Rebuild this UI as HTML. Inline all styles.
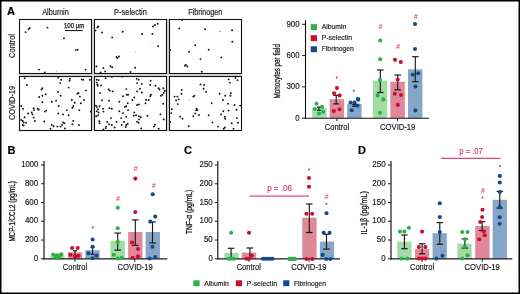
<!DOCTYPE html><html><head><meta charset="utf-8"><style>html,body{margin:0;padding:0;background:#fff;width:520px;height:294px;overflow:hidden}svg{display:block;filter:blur(0.3px)}text{font-family:"Liberation Sans",sans-serif}.t{stroke:currentColor}</style></head><body>
<svg width="520" height="294" viewBox="0 0 520 294">
<rect x="0" y="0" width="520" height="294" fill="#fff"/>
<rect x="0.75" y="0.75" width="518.5" height="292.5" fill="none" stroke="#000" stroke-width="1.5"/>
<text x="7" y="14.8" font-size="11" text-anchor="start" fill="#000" stroke="#000" stroke-width="0.18" font-weight="bold" >A</text>
<text x="7.6" y="153.6" font-size="11" text-anchor="start" fill="#000" stroke="#000" stroke-width="0.18" font-weight="bold" >B</text>
<text x="184" y="153.8" font-size="11" text-anchor="start" fill="#000" stroke="#000" stroke-width="0.18" font-weight="bold" >C</text>
<text x="358" y="153.8" font-size="11" text-anchor="start" fill="#000" stroke="#000" stroke-width="0.18" font-weight="bold" >D</text>
<rect x="19" y="19" width="223" height="112" fill="#d9d9d9"/>
<rect x="19.5" y="19.5" width="72" height="54" fill="#fff" stroke="#111" stroke-width="1.1"/>
<rect x="94.5" y="19.5" width="72" height="54" fill="#fff" stroke="#111" stroke-width="1.1"/>
<rect x="169.5" y="19.5" width="72" height="54" fill="#fff" stroke="#111" stroke-width="1.1"/>
<rect x="19.5" y="76.5" width="72" height="54" fill="#fff" stroke="#111" stroke-width="1.1"/>
<rect x="94.5" y="76.5" width="72" height="54" fill="#fff" stroke="#111" stroke-width="1.1"/>
<rect x="169.5" y="76.5" width="72" height="54" fill="#fff" stroke="#111" stroke-width="1.1"/>
<text x="42.2" y="15" font-size="8.2" text-anchor="start" fill="#222" stroke="#222" stroke-width="0.18" font-weight="normal" textLength="26.6" lengthAdjust="spacingAndGlyphs" >Albumin</text>
<text x="114.1" y="15" font-size="8.2" text-anchor="start" fill="#222" stroke="#222" stroke-width="0.18" font-weight="normal" textLength="32.7" lengthAdjust="spacingAndGlyphs" >P-selectin</text>
<text x="188.2" y="15" font-size="8.2" text-anchor="start" fill="#222" stroke="#222" stroke-width="0.18" font-weight="normal" textLength="34.1" lengthAdjust="spacingAndGlyphs" >Fibrinogen</text>
<text transform="translate(14.5,58.0) rotate(-90)" x="0" y="0" font-size="8.4" fill="#1a1a1a" stroke="#1a1a1a" stroke-width="0.18" font-weight="normal" textLength="24.0" lengthAdjust="spacingAndGlyphs">Control</text>
<text transform="translate(14.5,120.0) rotate(-90)" x="0" y="0" font-size="8.4" fill="#1a1a1a" stroke="#1a1a1a" stroke-width="0.18" font-weight="normal" textLength="34.2" lengthAdjust="spacingAndGlyphs">COVID-19</text>
<text x="64" y="27.8" font-size="6.3" text-anchor="start" fill="#1a1a1a" stroke="#1a1a1a" stroke-width="0.25" font-weight="normal" textLength="20.3" lengthAdjust="spacingAndGlyphs" >100 µm</text>
<line x1="65" y1="30.6" x2="82.7" y2="30.6" stroke="#111" stroke-width="1"/>
<circle cx="25.6" cy="32.1" r="0.95" fill="#111"/>
<circle cx="28.7" cy="29.3" r="0.95" fill="#111"/>
<circle cx="29.7" cy="28" r="0.95" fill="#111"/>
<circle cx="47.5" cy="27.6" r="0.95" fill="#111"/>
<circle cx="64" cy="38.3" r="0.95" fill="#111"/>
<circle cx="75.7" cy="50.1" r="0.95" fill="#111"/>
<circle cx="77.6" cy="49.7" r="0.95" fill="#111"/>
<circle cx="39" cy="69.6" r="0.95" fill="#111"/>
<circle cx="44.7" cy="72.4" r="0.95" fill="#111"/>
<circle cx="85.5" cy="69.6" r="0.95" fill="#111"/>
<circle cx="97.4" cy="27.4" r="0.95" fill="#111"/>
<circle cx="98.3" cy="26.5" r="0.95" fill="#111"/>
<circle cx="95.5" cy="30.6" r="0.95" fill="#111"/>
<circle cx="102" cy="32.5" r="0.95" fill="#111"/>
<circle cx="112.2" cy="37.4" r="0.95" fill="#111"/>
<circle cx="122.7" cy="31.7" r="0.95" fill="#111"/>
<circle cx="142.1" cy="34" r="0.95" fill="#111"/>
<circle cx="152.4" cy="34" r="0.95" fill="#111"/>
<circle cx="153" cy="26.5" r="0.95" fill="#111"/>
<circle cx="154.9" cy="25" r="0.95" fill="#111"/>
<circle cx="157.7" cy="23.7" r="0.95" fill="#111"/>
<circle cx="158.2" cy="46.2" r="0.95" fill="#111"/>
<circle cx="116.5" cy="57" r="0.95" fill="#111"/>
<circle cx="117.4" cy="58" r="0.95" fill="#111"/>
<circle cx="118.9" cy="56.5" r="0.95" fill="#111"/>
<circle cx="96.4" cy="66.4" r="0.95" fill="#111"/>
<circle cx="103.4" cy="68" r="0.95" fill="#111"/>
<circle cx="105.2" cy="71.4" r="0.95" fill="#111"/>
<circle cx="110.5" cy="66.2" r="0.95" fill="#111"/>
<circle cx="112.2" cy="67.3" r="0.95" fill="#111"/>
<circle cx="135.2" cy="67.7" r="0.95" fill="#111"/>
<circle cx="100.6" cy="72.4" r="0.95" fill="#111"/>
<circle cx="130.5" cy="72" r="0.95" fill="#111"/>
<circle cx="182.1" cy="19.9" r="0.95" fill="#111"/>
<circle cx="179.3" cy="28.4" r="0.95" fill="#111"/>
<circle cx="205.1" cy="29.3" r="0.95" fill="#111"/>
<circle cx="232.1" cy="30.2" r="0.95" fill="#111"/>
<circle cx="232.3" cy="41.8" r="0.95" fill="#111"/>
<circle cx="195.2" cy="45.2" r="0.95" fill="#111"/>
<circle cx="169.9" cy="49.9" r="0.95" fill="#111"/>
<circle cx="189" cy="51.8" r="0.95" fill="#111"/>
<circle cx="208.7" cy="49.7" r="0.95" fill="#111"/>
<circle cx="200.5" cy="59.1" r="0.95" fill="#111"/>
<circle cx="221.4" cy="57.4" r="0.95" fill="#111"/>
<circle cx="184.9" cy="65.8" r="0.95" fill="#111"/>
<circle cx="185.9" cy="64.9" r="0.95" fill="#111"/>
<circle cx="187.4" cy="66.4" r="0.95" fill="#111"/>
<circle cx="201.8" cy="71.8" r="0.95" fill="#111"/>
<circle cx="24.6" cy="78.2" r="0.95" fill="#111"/>
<circle cx="58.3" cy="77.5" r="0.95" fill="#111"/>
<circle cx="61.1" cy="79.7" r="0.95" fill="#111"/>
<circle cx="69.9" cy="78.8" r="0.95" fill="#111"/>
<circle cx="69.6" cy="80.7" r="0.95" fill="#111"/>
<circle cx="81.7" cy="79.4" r="0.95" fill="#111"/>
<circle cx="83.2" cy="79.7" r="0.95" fill="#111"/>
<circle cx="89.8" cy="79.7" r="0.95" fill="#111"/>
<circle cx="26.9" cy="85" r="0.95" fill="#111"/>
<circle cx="60.2" cy="83.1" r="0.95" fill="#111"/>
<circle cx="68.6" cy="87.6" r="0.95" fill="#111"/>
<circle cx="42.4" cy="88.2" r="0.95" fill="#111"/>
<circle cx="41.5" cy="89.5" r="0.95" fill="#111"/>
<circle cx="85.9" cy="90.6" r="0.95" fill="#111"/>
<circle cx="78.5" cy="92.9" r="0.95" fill="#111"/>
<circle cx="77.4" cy="93.8" r="0.95" fill="#111"/>
<circle cx="58" cy="91.9" r="0.95" fill="#111"/>
<circle cx="45.6" cy="94.2" r="0.95" fill="#111"/>
<circle cx="42.4" cy="95.7" r="0.95" fill="#111"/>
<circle cx="39.2" cy="97" r="0.95" fill="#111"/>
<circle cx="60.6" cy="95.7" r="0.95" fill="#111"/>
<circle cx="79.9" cy="96.6" r="0.95" fill="#111"/>
<circle cx="71.8" cy="100" r="0.95" fill="#111"/>
<circle cx="84" cy="100" r="0.95" fill="#111"/>
<circle cx="42.4" cy="102.2" r="0.95" fill="#111"/>
<circle cx="51.8" cy="101.8" r="0.95" fill="#111"/>
<circle cx="56.1" cy="100.7" r="0.95" fill="#111"/>
<circle cx="74.8" cy="102.8" r="0.95" fill="#111"/>
<circle cx="80.8" cy="103.2" r="0.95" fill="#111"/>
<circle cx="21.2" cy="106" r="0.95" fill="#111"/>
<circle cx="58.7" cy="106" r="0.95" fill="#111"/>
<circle cx="73.3" cy="106" r="0.95" fill="#111"/>
<circle cx="72.4" cy="107.8" r="0.95" fill="#111"/>
<circle cx="23.1" cy="108.8" r="0.95" fill="#111"/>
<circle cx="33.6" cy="108.2" r="0.95" fill="#111"/>
<circle cx="34" cy="110.1" r="0.95" fill="#111"/>
<circle cx="37.7" cy="108.8" r="0.95" fill="#111"/>
<circle cx="38.7" cy="109.7" r="0.95" fill="#111"/>
<circle cx="46.2" cy="110.6" r="0.95" fill="#111"/>
<circle cx="44.8" cy="111.6" r="0.95" fill="#111"/>
<circle cx="66.8" cy="110.1" r="0.95" fill="#111"/>
<circle cx="79.3" cy="110.1" r="0.95" fill="#111"/>
<circle cx="90.7" cy="111.6" r="0.95" fill="#111"/>
<circle cx="28" cy="113.5" r="0.95" fill="#111"/>
<circle cx="31.7" cy="112.5" r="0.95" fill="#111"/>
<circle cx="32.5" cy="114.4" r="0.95" fill="#111"/>
<circle cx="58.3" cy="113.5" r="0.95" fill="#111"/>
<circle cx="63" cy="114.4" r="0.95" fill="#111"/>
<circle cx="68.6" cy="115.3" r="0.95" fill="#111"/>
<circle cx="24.6" cy="117.2" r="0.95" fill="#111"/>
<circle cx="33.6" cy="117.6" r="0.95" fill="#111"/>
<circle cx="21.2" cy="120" r="0.95" fill="#111"/>
<circle cx="22.7" cy="121" r="0.95" fill="#111"/>
<circle cx="23.7" cy="122.4" r="0.95" fill="#111"/>
<circle cx="34.9" cy="121" r="0.95" fill="#111"/>
<circle cx="44.3" cy="121.5" r="0.95" fill="#111"/>
<circle cx="26.1" cy="122.8" r="0.95" fill="#111"/>
<circle cx="63" cy="122.4" r="0.95" fill="#111"/>
<circle cx="64.3" cy="123.2" r="0.95" fill="#111"/>
<circle cx="73.3" cy="121" r="0.95" fill="#111"/>
<circle cx="72.4" cy="124.3" r="0.95" fill="#111"/>
<circle cx="22.7" cy="125" r="0.95" fill="#111"/>
<circle cx="23.7" cy="125.6" r="0.95" fill="#111"/>
<circle cx="78.9" cy="125" r="0.95" fill="#111"/>
<circle cx="51.8" cy="125" r="0.95" fill="#111"/>
<circle cx="53.6" cy="126.2" r="0.95" fill="#111"/>
<circle cx="57.4" cy="126.6" r="0.95" fill="#111"/>
<circle cx="60.6" cy="126.6" r="0.95" fill="#111"/>
<circle cx="62.1" cy="125" r="0.95" fill="#111"/>
<circle cx="64.9" cy="128.4" r="0.95" fill="#111"/>
<circle cx="50.5" cy="128.8" r="0.95" fill="#111"/>
<circle cx="96.8" cy="79.7" r="0.95" fill="#111"/>
<circle cx="98.7" cy="80.1" r="0.95" fill="#111"/>
<circle cx="96.8" cy="82.6" r="0.95" fill="#111"/>
<circle cx="97.4" cy="84.4" r="0.95" fill="#111"/>
<circle cx="97.7" cy="85.7" r="0.95" fill="#111"/>
<circle cx="101.1" cy="85.4" r="0.95" fill="#111"/>
<circle cx="105.6" cy="78.2" r="0.95" fill="#111"/>
<circle cx="111.8" cy="76.9" r="0.95" fill="#111"/>
<circle cx="122.1" cy="76.6" r="0.95" fill="#111"/>
<circle cx="136.7" cy="78.8" r="0.95" fill="#111"/>
<circle cx="138.6" cy="79.7" r="0.95" fill="#111"/>
<circle cx="137.1" cy="83.1" r="0.95" fill="#111"/>
<circle cx="141.8" cy="83.9" r="0.95" fill="#111"/>
<circle cx="150.6" cy="80.7" r="0.95" fill="#111"/>
<circle cx="150.2" cy="85" r="0.95" fill="#111"/>
<circle cx="155.4" cy="85.7" r="0.95" fill="#111"/>
<circle cx="158.6" cy="88.2" r="0.95" fill="#111"/>
<circle cx="159.5" cy="89.5" r="0.95" fill="#111"/>
<circle cx="163.3" cy="88.2" r="0.95" fill="#111"/>
<circle cx="164.8" cy="91" r="0.95" fill="#111"/>
<circle cx="163.7" cy="92.9" r="0.95" fill="#111"/>
<circle cx="162.4" cy="94.7" r="0.95" fill="#111"/>
<circle cx="108.6" cy="89.5" r="0.95" fill="#111"/>
<circle cx="109.9" cy="90.6" r="0.95" fill="#111"/>
<circle cx="112.7" cy="91.4" r="0.95" fill="#111"/>
<circle cx="100" cy="92.9" r="0.95" fill="#111"/>
<circle cx="126.2" cy="89.1" r="0.95" fill="#111"/>
<circle cx="139.9" cy="88.7" r="0.95" fill="#111"/>
<circle cx="137.1" cy="91.4" r="0.95" fill="#111"/>
<circle cx="141.8" cy="92.5" r="0.95" fill="#111"/>
<circle cx="126.8" cy="94.7" r="0.95" fill="#111"/>
<circle cx="128.1" cy="94.7" r="0.95" fill="#111"/>
<circle cx="123" cy="96.2" r="0.95" fill="#111"/>
<circle cx="151.1" cy="94.7" r="0.95" fill="#111"/>
<circle cx="150.2" cy="96.2" r="0.95" fill="#111"/>
<circle cx="161" cy="95.7" r="0.95" fill="#111"/>
<circle cx="134.3" cy="97.5" r="0.95" fill="#111"/>
<circle cx="132.4" cy="100" r="0.95" fill="#111"/>
<circle cx="148.7" cy="100" r="0.95" fill="#111"/>
<circle cx="146.1" cy="100" r="0.95" fill="#111"/>
<circle cx="101.9" cy="100.3" r="0.95" fill="#111"/>
<circle cx="109" cy="100.7" r="0.95" fill="#111"/>
<circle cx="119.3" cy="101.8" r="0.95" fill="#111"/>
<circle cx="127.7" cy="103.2" r="0.95" fill="#111"/>
<circle cx="145.5" cy="103.2" r="0.95" fill="#111"/>
<circle cx="163.3" cy="103.7" r="0.95" fill="#111"/>
<circle cx="137.1" cy="105" r="0.95" fill="#111"/>
<circle cx="139" cy="104.5" r="0.95" fill="#111"/>
<circle cx="95.9" cy="105.6" r="0.95" fill="#111"/>
<circle cx="96.8" cy="106.9" r="0.95" fill="#111"/>
<circle cx="99.6" cy="106.3" r="0.95" fill="#111"/>
<circle cx="126.2" cy="106.3" r="0.95" fill="#111"/>
<circle cx="124.9" cy="106.9" r="0.95" fill="#111"/>
<circle cx="109.4" cy="108.2" r="0.95" fill="#111"/>
<circle cx="111.8" cy="108.8" r="0.95" fill="#111"/>
<circle cx="98.1" cy="109.3" r="0.95" fill="#111"/>
<circle cx="96.8" cy="111.2" r="0.95" fill="#111"/>
<circle cx="103" cy="108.8" r="0.95" fill="#111"/>
<circle cx="128.1" cy="110.1" r="0.95" fill="#111"/>
<circle cx="103.4" cy="111.6" r="0.95" fill="#111"/>
<circle cx="119.3" cy="111.2" r="0.95" fill="#111"/>
<circle cx="98.7" cy="112.5" r="0.95" fill="#111"/>
<circle cx="134.3" cy="112.5" r="0.95" fill="#111"/>
<circle cx="123" cy="113.1" r="0.95" fill="#111"/>
<circle cx="98.1" cy="115.3" r="0.95" fill="#111"/>
<circle cx="96.2" cy="116.3" r="0.95" fill="#111"/>
<circle cx="133.7" cy="115.7" r="0.95" fill="#111"/>
<circle cx="136.1" cy="115.3" r="0.95" fill="#111"/>
<circle cx="139" cy="116.3" r="0.95" fill="#111"/>
<circle cx="140.8" cy="117.2" r="0.95" fill="#111"/>
<circle cx="147.4" cy="115.7" r="0.95" fill="#111"/>
<circle cx="160.5" cy="114.4" r="0.95" fill="#111"/>
<circle cx="126.2" cy="116.8" r="0.95" fill="#111"/>
<circle cx="121.2" cy="118.1" r="0.95" fill="#111"/>
<circle cx="110.9" cy="118.1" r="0.95" fill="#111"/>
<circle cx="139" cy="119.4" r="0.95" fill="#111"/>
<circle cx="163.7" cy="119.4" r="0.95" fill="#111"/>
<circle cx="99.2" cy="121.3" r="0.95" fill="#111"/>
<circle cx="99.6" cy="123.2" r="0.95" fill="#111"/>
<circle cx="107.1" cy="121.9" r="0.95" fill="#111"/>
<circle cx="116.5" cy="121.9" r="0.95" fill="#111"/>
<circle cx="124" cy="121.9" r="0.95" fill="#111"/>
<circle cx="137.1" cy="121.9" r="0.95" fill="#111"/>
<circle cx="138.6" cy="122.8" r="0.95" fill="#111"/>
<circle cx="127.7" cy="123.8" r="0.95" fill="#111"/>
<circle cx="126.2" cy="125" r="0.95" fill="#111"/>
<circle cx="109" cy="124.3" r="0.95" fill="#111"/>
<circle cx="111.8" cy="125" r="0.95" fill="#111"/>
<circle cx="121.7" cy="125" r="0.95" fill="#111"/>
<circle cx="154.9" cy="124.7" r="0.95" fill="#111"/>
<circle cx="153.9" cy="126.6" r="0.95" fill="#111"/>
<circle cx="106.2" cy="126.6" r="0.95" fill="#111"/>
<circle cx="105.6" cy="128.1" r="0.95" fill="#111"/>
<circle cx="114.6" cy="127.5" r="0.95" fill="#111"/>
<circle cx="125.8" cy="126.9" r="0.95" fill="#111"/>
<circle cx="141.2" cy="128.4" r="0.95" fill="#111"/>
<circle cx="158.6" cy="128.8" r="0.95" fill="#111"/>
<circle cx="103.4" cy="129.4" r="0.95" fill="#111"/>
<circle cx="228.6" cy="79.4" r="0.95" fill="#111"/>
<circle cx="229.9" cy="82.6" r="0.95" fill="#111"/>
<circle cx="235.5" cy="77.9" r="0.95" fill="#111"/>
<circle cx="237.4" cy="80.1" r="0.95" fill="#111"/>
<circle cx="200.5" cy="84.4" r="0.95" fill="#111"/>
<circle cx="204.2" cy="85" r="0.95" fill="#111"/>
<circle cx="203.6" cy="88.7" r="0.95" fill="#111"/>
<circle cx="206.1" cy="91.9" r="0.95" fill="#111"/>
<circle cx="181.7" cy="90" r="0.95" fill="#111"/>
<circle cx="181.5" cy="93.8" r="0.95" fill="#111"/>
<circle cx="174.6" cy="96.6" r="0.95" fill="#111"/>
<circle cx="177.4" cy="96.6" r="0.95" fill="#111"/>
<circle cx="176.1" cy="100.3" r="0.95" fill="#111"/>
<circle cx="178.7" cy="99.4" r="0.95" fill="#111"/>
<circle cx="177.8" cy="104.1" r="0.95" fill="#111"/>
<circle cx="194.3" cy="95.7" r="0.95" fill="#111"/>
<circle cx="193.3" cy="96.6" r="0.95" fill="#111"/>
<circle cx="219.6" cy="93.8" r="0.95" fill="#111"/>
<circle cx="225.2" cy="95.7" r="0.95" fill="#111"/>
<circle cx="230.8" cy="93.2" r="0.95" fill="#111"/>
<circle cx="230.4" cy="95.7" r="0.95" fill="#111"/>
<circle cx="222.9" cy="100" r="0.95" fill="#111"/>
<circle cx="211.7" cy="103.2" r="0.95" fill="#111"/>
<circle cx="228" cy="103.7" r="0.95" fill="#111"/>
<circle cx="234.5" cy="105" r="0.95" fill="#111"/>
<circle cx="240.2" cy="105.6" r="0.95" fill="#111"/>
<circle cx="171.8" cy="109.3" r="0.95" fill="#111"/>
<circle cx="196.7" cy="108.8" r="0.95" fill="#111"/>
<circle cx="197.5" cy="110.1" r="0.95" fill="#111"/>
<circle cx="196.2" cy="110.3" r="0.95" fill="#111"/>
<circle cx="223.3" cy="111.2" r="0.95" fill="#111"/>
<circle cx="228.6" cy="110.6" r="0.95" fill="#111"/>
<circle cx="236.4" cy="109.7" r="0.95" fill="#111"/>
<circle cx="171.2" cy="113.1" r="0.95" fill="#111"/>
<circle cx="195.2" cy="113.5" r="0.95" fill="#111"/>
<circle cx="199" cy="115" r="0.95" fill="#111"/>
<circle cx="193.3" cy="116.3" r="0.95" fill="#111"/>
<circle cx="208.7" cy="115.3" r="0.95" fill="#111"/>
<circle cx="221.1" cy="114.4" r="0.95" fill="#111"/>
<circle cx="224.8" cy="116.8" r="0.95" fill="#111"/>
<circle cx="225.2" cy="118.7" r="0.95" fill="#111"/>
<circle cx="180.2" cy="116.8" r="0.95" fill="#111"/>
<circle cx="182.5" cy="118.7" r="0.95" fill="#111"/>
<circle cx="236.8" cy="118.1" r="0.95" fill="#111"/>
<circle cx="169.9" cy="121.9" r="0.95" fill="#111"/>
<circle cx="212.4" cy="122.4" r="0.95" fill="#111"/>
<circle cx="231.7" cy="123.2" r="0.95" fill="#111"/>
<circle cx="237.9" cy="122.8" r="0.95" fill="#111"/>
<circle cx="188.7" cy="126.2" r="0.95" fill="#111"/>
<circle cx="218.1" cy="126.6" r="0.95" fill="#111"/>
<circle cx="224.8" cy="127.5" r="0.95" fill="#111"/>
<circle cx="223.7" cy="128.8" r="0.95" fill="#111"/>
<circle cx="233.6" cy="128.8" r="0.95" fill="#111"/>
<circle cx="56.5" cy="71" r="0.8" fill="#bbb"/>
<circle cx="138.4" cy="38.3" r="0.8" fill="#ccc"/>
<circle cx="135.2" cy="52.3" r="0.8" fill="#ccc"/>
<circle cx="152" cy="46.7" r="0.8" fill="#ddd"/>
<circle cx="219.9" cy="31.5" r="0.8" fill="#888"/>
<circle cx="189.2" cy="100.3" r="0.8" fill="#bbb"/>
<line x1="302.0" y1="118.1" x2="305.5" y2="118.1" stroke="#1a1a1a" stroke-width="1"/>
<text x="299.6" y="120.6" font-size="8.7" text-anchor="end" fill="#1a1a1a" stroke="#1a1a1a" stroke-width="0.18" font-weight="normal" textLength="4.3" lengthAdjust="spacingAndGlyphs" >0</text>
<line x1="302.0" y1="86.83333333333333" x2="305.5" y2="86.83333333333333" stroke="#1a1a1a" stroke-width="1"/>
<text x="299.6" y="89.33333333333333" font-size="8.7" text-anchor="end" fill="#1a1a1a" stroke="#1a1a1a" stroke-width="0.18" font-weight="normal" textLength="13.2" lengthAdjust="spacingAndGlyphs" >300</text>
<line x1="302.0" y1="55.56666666666666" x2="305.5" y2="55.56666666666666" stroke="#1a1a1a" stroke-width="1"/>
<text x="299.6" y="58.06666666666666" font-size="8.7" text-anchor="end" fill="#1a1a1a" stroke="#1a1a1a" stroke-width="0.18" font-weight="normal" textLength="13.2" lengthAdjust="spacingAndGlyphs" >600</text>
<line x1="302.0" y1="24.299999999999997" x2="305.5" y2="24.299999999999997" stroke="#1a1a1a" stroke-width="1"/>
<text x="299.6" y="26.799999999999997" font-size="8.7" text-anchor="end" fill="#1a1a1a" stroke="#1a1a1a" stroke-width="0.18" font-weight="normal" textLength="13.2" lengthAdjust="spacingAndGlyphs" >900</text>
<text transform="translate(280.2,98.5) rotate(-90)" x="0" y="0" font-size="8.5" fill="#1a1a1a" stroke="#1a1a1a" stroke-width="0.28" font-weight="normal" textLength="54.4" lengthAdjust="spacingAndGlyphs">Monocytes per field</text>
<rect x="310.7" y="24.2" width="6.3" height="5.9" fill="#2eaf4a"/>
<text x="321.7" y="29.4" font-size="7.7" text-anchor="start" fill="#1a1a1a" stroke="#1a1a1a" stroke-width="0.18" font-weight="normal" textLength="24.6" lengthAdjust="spacingAndGlyphs" >Albumin</text>
<rect x="310.7" y="35.2" width="6.3" height="5.9" fill="#c8102e"/>
<text x="321.7" y="40.3" font-size="7.7" text-anchor="start" fill="#1a1a1a" stroke="#1a1a1a" stroke-width="0.18" font-weight="normal" textLength="30.3" lengthAdjust="spacingAndGlyphs" >P-selectin</text>
<rect x="310.7" y="46.3" width="6.3" height="5.9" fill="#124a8a"/>
<text x="321.7" y="51.3" font-size="7.7" text-anchor="start" fill="#1a1a1a" stroke="#1a1a1a" stroke-width="0.18" font-weight="normal" textLength="32.1" lengthAdjust="spacingAndGlyphs" >Fibrinogen</text>
<rect x="312.2" y="108.1" width="14.4" height="10.0" fill="#a3dba6"/>
<rect x="329.7" y="99.2" width="14.4" height="18.89999999999999" fill="#e08799"/>
<rect x="347.2" y="103.8" width="14.4" height="14.299999999999997" fill="#86a6c8"/>
<rect x="372.90000000000003" y="80.6" width="14.4" height="37.5" fill="#a3dba6"/>
<rect x="390.40000000000003" y="81.7" width="14.4" height="36.39999999999999" fill="#e08799"/>
<rect x="408.0" y="69.3" width="14.4" height="48.8" fill="#86a6c8"/>
<line x1="305.5" y1="20" x2="305.5" y2="118.69999999999999" stroke="#111" stroke-width="1.1"/>
<line x1="304.95" y1="118.25" x2="429" y2="118.25" stroke="#111" stroke-width="1.05"/>
<line x1="318.9" y1="107.1" x2="318.9" y2="110.3" stroke="#1a1a1a" stroke-width="1.15"/>
<line x1="316.9" y1="107.1" x2="320.9" y2="107.1" stroke="#1a1a1a" stroke-width="1.2"/>
<line x1="316.9" y1="110.3" x2="320.9" y2="110.3" stroke="#1a1a1a" stroke-width="1.2"/>
<line x1="336.2" y1="95.3" x2="336.2" y2="103.9" stroke="#1a1a1a" stroke-width="1.15"/>
<line x1="333.2" y1="95.3" x2="339.2" y2="95.3" stroke="#1a1a1a" stroke-width="1.2"/>
<line x1="333.2" y1="103.9" x2="339.2" y2="103.9" stroke="#1a1a1a" stroke-width="1.2"/>
<line x1="354.2" y1="104.3" x2="354.2" y2="106.2" stroke="#1a1a1a" stroke-width="1.15"/>
<line x1="352.2" y1="104.3" x2="356.2" y2="104.3" stroke="#1a1a1a" stroke-width="1.2"/>
<line x1="352.2" y1="106.2" x2="356.2" y2="106.2" stroke="#1a1a1a" stroke-width="1.2"/>
<line x1="380.3" y1="70" x2="380.3" y2="92.5" stroke="#1a1a1a" stroke-width="1.15"/>
<line x1="377.05" y1="70" x2="383.55" y2="70" stroke="#1a1a1a" stroke-width="1.2"/>
<line x1="377.05" y1="92.5" x2="383.55" y2="92.5" stroke="#1a1a1a" stroke-width="1.2"/>
<line x1="397.7" y1="75" x2="397.7" y2="89.9" stroke="#1a1a1a" stroke-width="1.15"/>
<line x1="394.45" y1="75" x2="400.95" y2="75" stroke="#1a1a1a" stroke-width="1.2"/>
<line x1="394.45" y1="89.9" x2="400.95" y2="89.9" stroke="#1a1a1a" stroke-width="1.2"/>
<line x1="415.3" y1="56.7" x2="415.3" y2="81.7" stroke="#1a1a1a" stroke-width="1.15"/>
<line x1="412.05" y1="56.7" x2="418.55" y2="56.7" stroke="#1a1a1a" stroke-width="1.2"/>
<line x1="412.05" y1="81.7" x2="418.55" y2="81.7" stroke="#1a1a1a" stroke-width="1.2"/>
<text x="380.5" y="29.099999999999998" font-size="6.6" text-anchor="middle" fill="#e2678a" stroke="#e2678a" stroke-width="0.15">#</text>
<text x="398.0" y="49.2" font-size="6.6" text-anchor="middle" fill="#e2678a" stroke="#e2678a" stroke-width="0.15">#</text>
<text x="415.90000000000003" y="18.6" font-size="6.6" text-anchor="middle" fill="#e2678a" stroke="#e2678a" stroke-width="0.15">#</text>
<line x1="336.9" y1="118.1" x2="336.9" y2="121.1" stroke="#1a1a1a" stroke-width="1"/>
<line x1="397.6" y1="118.1" x2="397.6" y2="121.1" stroke="#1a1a1a" stroke-width="1"/>
<text x="336.9" y="129.6" font-size="8.6" text-anchor="middle" fill="#1a1a1a" stroke="#1a1a1a" stroke-width="0.18" font-weight="normal" textLength="24.3" lengthAdjust="spacingAndGlyphs" >Control</text>
<text x="397.7" y="129.6" font-size="8.6" text-anchor="middle" fill="#1a1a1a" stroke="#1a1a1a" stroke-width="0.18" font-weight="normal" textLength="35.3" lengthAdjust="spacingAndGlyphs" >COVID-19</text>
<rect x="50.15" y="255.6" width="14.3" height="3.200000000000017" fill="#a3dba6"/>
<rect x="67.85" y="252.4" width="14.3" height="6.400000000000006" fill="#e08799"/>
<rect x="85.35" y="250.2" width="14.3" height="8.600000000000023" fill="#86a6c8"/>
<rect x="110.55" y="240.8" width="14.3" height="18.0" fill="#a3dba6"/>
<rect x="128.15" y="232" width="14.3" height="26.80000000000001" fill="#e08799"/>
<rect x="145.65" y="232" width="14.3" height="26.80000000000001" fill="#86a6c8"/>
<line x1="44" y1="161" x2="44" y2="259.5" stroke="#1a1a1a" stroke-width="1.2"/>
<line x1="43.4" y1="258.8" x2="167.3" y2="258.8" stroke="#1a1a1a" stroke-width="1.3"/>
<line x1="41" y1="258.8" x2="44" y2="258.8" stroke="#1a1a1a" stroke-width="1"/>
<text x="38.2" y="260.90000000000003" font-size="8.7" text-anchor="end" fill="#1a1a1a" stroke="#1a1a1a" stroke-width="0.18" font-weight="normal" textLength="4.4" lengthAdjust="spacingAndGlyphs" >0</text>
<line x1="41" y1="240.04000000000002" x2="44" y2="240.04000000000002" stroke="#1a1a1a" stroke-width="1"/>
<text x="38.2" y="242.14000000000001" font-size="8.7" text-anchor="end" fill="#1a1a1a" stroke="#1a1a1a" stroke-width="0.18" font-weight="normal" textLength="13.3" lengthAdjust="spacingAndGlyphs" >200</text>
<line x1="41" y1="221.28" x2="44" y2="221.28" stroke="#1a1a1a" stroke-width="1"/>
<text x="38.2" y="223.38" font-size="8.7" text-anchor="end" fill="#1a1a1a" stroke="#1a1a1a" stroke-width="0.18" font-weight="normal" textLength="13.3" lengthAdjust="spacingAndGlyphs" >400</text>
<line x1="41" y1="202.52" x2="44" y2="202.52" stroke="#1a1a1a" stroke-width="1"/>
<text x="38.2" y="204.62" font-size="8.7" text-anchor="end" fill="#1a1a1a" stroke="#1a1a1a" stroke-width="0.18" font-weight="normal" textLength="13.3" lengthAdjust="spacingAndGlyphs" >600</text>
<line x1="41" y1="183.76" x2="44" y2="183.76" stroke="#1a1a1a" stroke-width="1"/>
<text x="38.2" y="185.85999999999999" font-size="8.7" text-anchor="end" fill="#1a1a1a" stroke="#1a1a1a" stroke-width="0.18" font-weight="normal" textLength="13.3" lengthAdjust="spacingAndGlyphs" >800</text>
<line x1="41" y1="165.0" x2="44" y2="165.0" stroke="#1a1a1a" stroke-width="1"/>
<text x="38.2" y="167.1" font-size="8.7" text-anchor="end" fill="#1a1a1a" stroke="#1a1a1a" stroke-width="0.18" font-weight="normal" textLength="17" lengthAdjust="spacingAndGlyphs" >1000</text>
<text transform="translate(14.9,241.6) rotate(-90)" x="0" y="0" font-size="8.5" fill="#1a1a1a" stroke="#1a1a1a" stroke-width="0.28" font-weight="normal" textLength="60.5" lengthAdjust="spacingAndGlyphs">MCP-1/CCL2 (pg/mL)</text>
<line x1="75" y1="250.8" x2="75" y2="255.5" stroke="#1a1a1a" stroke-width="1.15"/>
<line x1="73.0" y1="250.8" x2="77.0" y2="250.8" stroke="#1a1a1a" stroke-width="1.2"/>
<line x1="73.0" y1="255.5" x2="77.0" y2="255.5" stroke="#1a1a1a" stroke-width="1.2"/>
<line x1="92.6" y1="247.4" x2="92.6" y2="254.2" stroke="#1a1a1a" stroke-width="1.15"/>
<line x1="90.6" y1="247.4" x2="94.6" y2="247.4" stroke="#1a1a1a" stroke-width="1.2"/>
<line x1="90.6" y1="254.2" x2="94.6" y2="254.2" stroke="#1a1a1a" stroke-width="1.2"/>
<line x1="117.7" y1="233.1" x2="117.7" y2="250.1" stroke="#1a1a1a" stroke-width="1.15"/>
<line x1="114.45" y1="233.1" x2="120.95" y2="233.1" stroke="#1a1a1a" stroke-width="1.2"/>
<line x1="114.45" y1="250.1" x2="120.95" y2="250.1" stroke="#1a1a1a" stroke-width="1.2"/>
<line x1="135.3" y1="219.9" x2="135.3" y2="245.3" stroke="#1a1a1a" stroke-width="1.15"/>
<line x1="132.05" y1="219.9" x2="138.55" y2="219.9" stroke="#1a1a1a" stroke-width="1.2"/>
<line x1="132.05" y1="245.3" x2="138.55" y2="245.3" stroke="#1a1a1a" stroke-width="1.2"/>
<line x1="152.5" y1="222" x2="152.5" y2="243" stroke="#1a1a1a" stroke-width="1.15"/>
<line x1="149.25" y1="222" x2="155.75" y2="222" stroke="#1a1a1a" stroke-width="1.2"/>
<line x1="149.25" y1="243" x2="155.75" y2="243" stroke="#1a1a1a" stroke-width="1.2"/>
<text x="118.1" y="201.1" font-size="6.6" text-anchor="middle" fill="#e2678a" stroke="#e2678a" stroke-width="0.15">#</text>
<text x="135.60000000000002" y="171.1" font-size="6.6" text-anchor="middle" fill="#e2678a" stroke="#e2678a" stroke-width="0.15">#</text>
<text x="153.8" y="188.0" font-size="6.6" text-anchor="middle" fill="#e2678a" stroke="#e2678a" stroke-width="0.15">#</text>
<line x1="75" y1="258.8" x2="75" y2="261.8" stroke="#1a1a1a" stroke-width="1"/>
<line x1="134.8" y1="258.8" x2="134.8" y2="261.8" stroke="#1a1a1a" stroke-width="1"/>
<text x="75" y="270.2" font-size="8.6" text-anchor="middle" fill="#1a1a1a" stroke="#1a1a1a" stroke-width="0.18" font-weight="normal" textLength="24.3" lengthAdjust="spacingAndGlyphs" >Control</text>
<text x="135.2" y="270.2" font-size="8.6" text-anchor="middle" fill="#1a1a1a" stroke="#1a1a1a" stroke-width="0.18" font-weight="normal" textLength="35.3" lengthAdjust="spacingAndGlyphs" >COVID-19</text>
<rect x="224.25" y="252.9" width="14.3" height="5.900000000000006" fill="#a3dba6"/>
<rect x="241.85" y="252.6" width="14.3" height="6.200000000000017" fill="#e08799"/>
<rect x="302.25" y="217.7" width="14.3" height="41.10000000000002" fill="#e08799"/>
<rect x="319.85" y="241.6" width="14.3" height="17.200000000000017" fill="#86a6c8"/>
<line x1="217.8" y1="161" x2="217.8" y2="259.5" stroke="#1a1a1a" stroke-width="1.2"/>
<line x1="217.20000000000002" y1="258.8" x2="340" y2="258.8" stroke="#1a1a1a" stroke-width="1.3"/>
<line x1="214.8" y1="258.8" x2="217.8" y2="258.8" stroke="#1a1a1a" stroke-width="1"/>
<text x="212.8" y="260.90000000000003" font-size="8.7" text-anchor="end" fill="#1a1a1a" stroke="#1a1a1a" stroke-width="0.18" font-weight="normal" textLength="4.4" lengthAdjust="spacingAndGlyphs" >0</text>
<line x1="214.8" y1="240.04000000000002" x2="217.8" y2="240.04000000000002" stroke="#1a1a1a" stroke-width="1"/>
<text x="212.8" y="242.14000000000001" font-size="8.7" text-anchor="end" fill="#1a1a1a" stroke="#1a1a1a" stroke-width="0.18" font-weight="normal" textLength="8.9" lengthAdjust="spacingAndGlyphs" >50</text>
<line x1="214.8" y1="221.28" x2="217.8" y2="221.28" stroke="#1a1a1a" stroke-width="1"/>
<text x="212.8" y="223.38" font-size="8.7" text-anchor="end" fill="#1a1a1a" stroke="#1a1a1a" stroke-width="0.18" font-weight="normal" textLength="13.3" lengthAdjust="spacingAndGlyphs" >100</text>
<line x1="214.8" y1="202.52" x2="217.8" y2="202.52" stroke="#1a1a1a" stroke-width="1"/>
<text x="212.8" y="204.62" font-size="8.7" text-anchor="end" fill="#1a1a1a" stroke="#1a1a1a" stroke-width="0.18" font-weight="normal" textLength="13.3" lengthAdjust="spacingAndGlyphs" >150</text>
<line x1="214.8" y1="183.76" x2="217.8" y2="183.76" stroke="#1a1a1a" stroke-width="1"/>
<text x="212.8" y="185.85999999999999" font-size="8.7" text-anchor="end" fill="#1a1a1a" stroke="#1a1a1a" stroke-width="0.18" font-weight="normal" textLength="13.3" lengthAdjust="spacingAndGlyphs" >200</text>
<line x1="214.8" y1="165.0" x2="217.8" y2="165.0" stroke="#1a1a1a" stroke-width="1"/>
<text x="212.8" y="167.1" font-size="8.7" text-anchor="end" fill="#1a1a1a" stroke="#1a1a1a" stroke-width="0.18" font-weight="normal" textLength="13.3" lengthAdjust="spacingAndGlyphs" >250</text>
<text transform="translate(192.1,234.2) rotate(-90)" x="0" y="0" font-size="8.5" fill="#1a1a1a" stroke="#1a1a1a" stroke-width="0.28" font-weight="normal" textLength="44.5" lengthAdjust="spacingAndGlyphs">TNF-α (pg/mL)</text>
<line x1="231.1" y1="248.3" x2="231.1" y2="257.5" stroke="#1a1a1a" stroke-width="1.15"/>
<line x1="227.85" y1="248.3" x2="234.35" y2="248.3" stroke="#1a1a1a" stroke-width="1.2"/>
<line x1="249.9" y1="248" x2="249.9" y2="257.5" stroke="#1a1a1a" stroke-width="1.15"/>
<line x1="246.65" y1="248" x2="253.15" y2="248" stroke="#1a1a1a" stroke-width="1.2"/>
<line x1="309.3" y1="204" x2="309.3" y2="232.5" stroke="#1a1a1a" stroke-width="1.15"/>
<line x1="306.05" y1="204" x2="312.55" y2="204" stroke="#1a1a1a" stroke-width="1.2"/>
<line x1="306.05" y1="232.5" x2="312.55" y2="232.5" stroke="#1a1a1a" stroke-width="1.2"/>
<line x1="326.5" y1="234.3" x2="326.5" y2="249.1" stroke="#1a1a1a" stroke-width="1.15"/>
<line x1="323.25" y1="234.3" x2="329.75" y2="234.3" stroke="#1a1a1a" stroke-width="1.2"/>
<line x1="323.25" y1="249.1" x2="329.75" y2="249.1" stroke="#1a1a1a" stroke-width="1.2"/>
<text x="326.6" y="198.6" font-size="6.6" text-anchor="middle" fill="#e2678a" stroke="#e2678a" stroke-width="0.15">#</text>
<line x1="249.5" y1="196.2" x2="309" y2="196.2" stroke="#d4506e" stroke-width="1.2"/>
<text x="279.6" y="191.1" font-size="8.4" text-anchor="middle" fill="#d03a62" stroke="#d03a62" stroke-width="0.15" font-weight="normal" textLength="24.9" lengthAdjust="spacingAndGlyphs" >p = .06</text>
<line x1="249" y1="258.8" x2="249" y2="261.8" stroke="#1a1a1a" stroke-width="1"/>
<line x1="309" y1="258.8" x2="309" y2="261.8" stroke="#1a1a1a" stroke-width="1"/>
<text x="248.8" y="270.2" font-size="8.6" text-anchor="middle" fill="#1a1a1a" stroke="#1a1a1a" stroke-width="0.18" font-weight="normal" textLength="24.3" lengthAdjust="spacingAndGlyphs" >Control</text>
<text x="308.8" y="270.2" font-size="8.6" text-anchor="middle" fill="#1a1a1a" stroke="#1a1a1a" stroke-width="0.18" font-weight="normal" textLength="35.3" lengthAdjust="spacingAndGlyphs" >COVID-19</text>
<rect x="193.4" y="280.3" width="6.2" height="5.9" fill="#2eaf4a"/>
<text x="204.2" y="285.7" font-size="8.0" text-anchor="start" fill="#1a1a1a" stroke="#1a1a1a" stroke-width="0.18" font-weight="normal" textLength="24.7" lengthAdjust="spacingAndGlyphs" >Albumin</text>
<rect x="235.8" y="280.3" width="6.2" height="5.9" fill="#c8102e"/>
<text x="246.8" y="285.7" font-size="8.0" text-anchor="start" fill="#1a1a1a" stroke="#1a1a1a" stroke-width="0.18" font-weight="normal" textLength="30.2" lengthAdjust="spacingAndGlyphs" >P-selectin</text>
<rect x="283.2" y="280.3" width="6.2" height="5.9" fill="#124a8a"/>
<text x="293.9" y="285.7" font-size="8.0" text-anchor="start" fill="#1a1a1a" stroke="#1a1a1a" stroke-width="0.18" font-weight="normal" textLength="32.2" lengthAdjust="spacingAndGlyphs" >Fibrinogen</text>
<rect x="397.25" y="241.6" width="14.3" height="17.200000000000017" fill="#a3dba6"/>
<rect x="414.95000000000005" y="249.1" width="14.3" height="9.700000000000017" fill="#e08799"/>
<rect x="432.55" y="233.2" width="14.3" height="25.600000000000023" fill="#86a6c8"/>
<rect x="457.35" y="243.7" width="14.3" height="15.100000000000023" fill="#a3dba6"/>
<rect x="475.25" y="226" width="14.3" height="32.80000000000001" fill="#e08799"/>
<rect x="492.65000000000003" y="199.8" width="14.3" height="59.0" fill="#86a6c8"/>
<line x1="391" y1="161" x2="391" y2="259.5" stroke="#1a1a1a" stroke-width="1.2"/>
<line x1="390.4" y1="258.8" x2="512.3" y2="258.8" stroke="#1a1a1a" stroke-width="1.3"/>
<line x1="388" y1="258.8" x2="391" y2="258.8" stroke="#1a1a1a" stroke-width="1"/>
<text x="385.6" y="260.90000000000003" font-size="8.7" text-anchor="end" fill="#1a1a1a" stroke="#1a1a1a" stroke-width="0.18" font-weight="normal" textLength="4.4" lengthAdjust="spacingAndGlyphs" >0</text>
<line x1="388" y1="240.04000000000002" x2="391" y2="240.04000000000002" stroke="#1a1a1a" stroke-width="1"/>
<text x="385.6" y="242.14000000000001" font-size="8.7" text-anchor="end" fill="#1a1a1a" stroke="#1a1a1a" stroke-width="0.18" font-weight="normal" textLength="8.9" lengthAdjust="spacingAndGlyphs" >50</text>
<line x1="388" y1="221.28" x2="391" y2="221.28" stroke="#1a1a1a" stroke-width="1"/>
<text x="385.6" y="223.38" font-size="8.7" text-anchor="end" fill="#1a1a1a" stroke="#1a1a1a" stroke-width="0.18" font-weight="normal" textLength="13.3" lengthAdjust="spacingAndGlyphs" >100</text>
<line x1="388" y1="202.52" x2="391" y2="202.52" stroke="#1a1a1a" stroke-width="1"/>
<text x="385.6" y="204.62" font-size="8.7" text-anchor="end" fill="#1a1a1a" stroke="#1a1a1a" stroke-width="0.18" font-weight="normal" textLength="13.3" lengthAdjust="spacingAndGlyphs" >150</text>
<line x1="388" y1="183.76" x2="391" y2="183.76" stroke="#1a1a1a" stroke-width="1"/>
<text x="385.6" y="185.85999999999999" font-size="8.7" text-anchor="end" fill="#1a1a1a" stroke="#1a1a1a" stroke-width="0.18" font-weight="normal" textLength="13.3" lengthAdjust="spacingAndGlyphs" >200</text>
<line x1="388" y1="165.0" x2="391" y2="165.0" stroke="#1a1a1a" stroke-width="1"/>
<text x="385.6" y="167.1" font-size="8.7" text-anchor="end" fill="#1a1a1a" stroke="#1a1a1a" stroke-width="0.18" font-weight="normal" textLength="13.3" lengthAdjust="spacingAndGlyphs" >250</text>
<text transform="translate(366.6,234.4) rotate(-90)" x="0" y="0" font-size="8.5" fill="#1a1a1a" stroke="#1a1a1a" stroke-width="0.28" font-weight="normal" textLength="43.3" lengthAdjust="spacingAndGlyphs">IL-1β (pg/mL)</text>
<line x1="404.4" y1="235" x2="404.4" y2="248.7" stroke="#1a1a1a" stroke-width="1.15"/>
<line x1="401.15" y1="235" x2="407.65" y2="235" stroke="#1a1a1a" stroke-width="1.2"/>
<line x1="401.15" y1="248.7" x2="407.65" y2="248.7" stroke="#1a1a1a" stroke-width="1.2"/>
<line x1="422.1" y1="243.8" x2="422.1" y2="253.8" stroke="#1a1a1a" stroke-width="1.15"/>
<line x1="418.85" y1="243.8" x2="425.35" y2="243.8" stroke="#1a1a1a" stroke-width="1.2"/>
<line x1="418.85" y1="253.8" x2="425.35" y2="253.8" stroke="#1a1a1a" stroke-width="1.2"/>
<line x1="439.8" y1="222.6" x2="439.8" y2="244.2" stroke="#1a1a1a" stroke-width="1.15"/>
<line x1="436.55" y1="222.6" x2="443.05" y2="222.6" stroke="#1a1a1a" stroke-width="1.2"/>
<line x1="436.55" y1="244.2" x2="443.05" y2="244.2" stroke="#1a1a1a" stroke-width="1.2"/>
<line x1="464.9" y1="238.9" x2="464.9" y2="248.1" stroke="#1a1a1a" stroke-width="1.15"/>
<line x1="461.65" y1="238.9" x2="468.15" y2="238.9" stroke="#1a1a1a" stroke-width="1.2"/>
<line x1="461.65" y1="248.1" x2="468.15" y2="248.1" stroke="#1a1a1a" stroke-width="1.2"/>
<line x1="482.1" y1="221.6" x2="482.1" y2="230.5" stroke="#1a1a1a" stroke-width="1.15"/>
<line x1="478.85" y1="221.6" x2="485.35" y2="221.6" stroke="#1a1a1a" stroke-width="1.2"/>
<line x1="478.85" y1="230.5" x2="485.35" y2="230.5" stroke="#1a1a1a" stroke-width="1.2"/>
<line x1="499.8" y1="191.4" x2="499.8" y2="208" stroke="#1a1a1a" stroke-width="1.15"/>
<line x1="496.55" y1="191.4" x2="503.05" y2="191.4" stroke="#1a1a1a" stroke-width="1.2"/>
<line x1="496.55" y1="208" x2="503.05" y2="208" stroke="#1a1a1a" stroke-width="1.2"/>
<text x="482.8" y="193.0" font-size="6.6" text-anchor="middle" fill="#e2678a" stroke="#e2678a" stroke-width="0.15">#</text>
<line x1="441" y1="158.4" x2="500.6" y2="158.4" stroke="#d4506e" stroke-width="1.2"/>
<text x="471" y="153.7" font-size="8.4" text-anchor="middle" fill="#d03a62" stroke="#d03a62" stroke-width="0.15" font-weight="normal" textLength="23.7" lengthAdjust="spacingAndGlyphs" >p = .07</text>
<line x1="422.1" y1="258.8" x2="422.1" y2="261.8" stroke="#1a1a1a" stroke-width="1"/>
<line x1="482.2" y1="258.8" x2="482.2" y2="261.8" stroke="#1a1a1a" stroke-width="1"/>
<text x="422.1" y="270.2" font-size="8.6" text-anchor="middle" fill="#1a1a1a" stroke="#1a1a1a" stroke-width="0.18" font-weight="normal" textLength="24.3" lengthAdjust="spacingAndGlyphs" >Control</text>
<text x="482.2" y="270.2" font-size="8.6" text-anchor="middle" fill="#1a1a1a" stroke="#1a1a1a" stroke-width="0.18" font-weight="normal" textLength="35.3" lengthAdjust="spacingAndGlyphs" >COVID-19</text>
<circle cx="316.5" cy="103.7" r="2.05" fill="#2eaf4a"/>
<circle cx="314.8" cy="109" r="2.05" fill="#2eaf4a"/>
<circle cx="322" cy="106.9" r="2.05" fill="#2eaf4a"/>
<circle cx="323.2" cy="111.7" r="2.05" fill="#2eaf4a"/>
<circle cx="319" cy="113.5" r="2.05" fill="#2eaf4a"/>
<circle cx="337" cy="88.1" r="2.05" fill="#c8102e"/>
<circle cx="334.1" cy="93.3" r="2.05" fill="#c8102e"/>
<circle cx="339.6" cy="95.4" r="2.05" fill="#c8102e"/>
<circle cx="333.8" cy="111.1" r="2.05" fill="#c8102e"/>
<circle cx="339.6" cy="109.2" r="2.05" fill="#c8102e"/>
<circle cx="358" cy="99.1" r="2.05" fill="#124a8a"/>
<circle cx="350.6" cy="102.5" r="2.05" fill="#124a8a"/>
<circle cx="354.6" cy="102.5" r="2.05" fill="#124a8a"/>
<circle cx="358.3" cy="99.6" r="2.05" fill="#124a8a"/>
<circle cx="357.5" cy="105.6" r="2.05" fill="#124a8a"/>
<circle cx="351.7" cy="110.2" r="2.05" fill="#124a8a"/>
<circle cx="380.2" cy="40.5" r="2.05" fill="#2eaf4a"/>
<circle cx="380.2" cy="59.2" r="2.05" fill="#2eaf4a"/>
<circle cx="380" cy="79.9" r="2.05" fill="#2eaf4a"/>
<circle cx="377.7" cy="95.4" r="2.05" fill="#2eaf4a"/>
<circle cx="383.3" cy="99.4" r="2.05" fill="#2eaf4a"/>
<circle cx="380" cy="112.7" r="2.05" fill="#2eaf4a"/>
<circle cx="395" cy="59.7" r="2.05" fill="#c8102e"/>
<circle cx="400.8" cy="62" r="2.05" fill="#c8102e"/>
<circle cx="397.7" cy="79.5" r="2.05" fill="#c8102e"/>
<circle cx="394.8" cy="93.8" r="2.05" fill="#c8102e"/>
<circle cx="401" cy="95" r="2.05" fill="#c8102e"/>
<circle cx="397.9" cy="104.9" r="2.05" fill="#c8102e"/>
<circle cx="415" cy="24" r="2.05" fill="#124a8a"/>
<circle cx="415" cy="49" r="2.05" fill="#124a8a"/>
<circle cx="412.7" cy="74.8" r="2.05" fill="#124a8a"/>
<circle cx="418.2" cy="73.3" r="2.05" fill="#124a8a"/>
<circle cx="415.4" cy="86.5" r="2.05" fill="#124a8a"/>
<circle cx="415.4" cy="110.4" r="2.05" fill="#124a8a"/>
<circle cx="336.7" cy="77.5" r="1.0" fill="#d42a55"/>
<circle cx="353.8" cy="90.8" r="1.0" fill="#d42a55"/>
<circle cx="53.2" cy="254.6" r="2.05" fill="#2eaf4a"/>
<circle cx="55.4" cy="256" r="2.05" fill="#2eaf4a"/>
<circle cx="57.4" cy="255.2" r="2.05" fill="#2eaf4a"/>
<circle cx="57.6" cy="258.3" r="2.05" fill="#2eaf4a"/>
<circle cx="59.5" cy="256" r="2.05" fill="#2eaf4a"/>
<circle cx="61.4" cy="254.2" r="2.05" fill="#2eaf4a"/>
<circle cx="72.1" cy="248" r="2.05" fill="#c8102e"/>
<circle cx="77.7" cy="248" r="2.05" fill="#c8102e"/>
<circle cx="70.6" cy="254.8" r="2.05" fill="#c8102e"/>
<circle cx="75.2" cy="256.4" r="2.05" fill="#c8102e"/>
<circle cx="78.4" cy="255.8" r="2.05" fill="#c8102e"/>
<circle cx="92.6" cy="239.5" r="2.05" fill="#124a8a"/>
<circle cx="92.6" cy="246.8" r="2.05" fill="#124a8a"/>
<circle cx="88.4" cy="253.3" r="2.05" fill="#124a8a"/>
<circle cx="96.6" cy="255.6" r="2.05" fill="#124a8a"/>
<circle cx="92.6" cy="258.3" r="2.05" fill="#124a8a"/>
<circle cx="117.7" cy="207.7" r="2.05" fill="#2eaf4a"/>
<circle cx="117.7" cy="228.3" r="2.05" fill="#2eaf4a"/>
<circle cx="117.7" cy="241.9" r="2.05" fill="#2eaf4a"/>
<circle cx="113.7" cy="254.7" r="2.05" fill="#2eaf4a"/>
<circle cx="117.7" cy="258.5" r="2.05" fill="#2eaf4a"/>
<circle cx="121.6" cy="257.8" r="2.05" fill="#2eaf4a"/>
<circle cx="135.3" cy="178.6" r="2.05" fill="#c8102e"/>
<circle cx="135.3" cy="212.1" r="2.05" fill="#c8102e"/>
<circle cx="132" cy="242.6" r="2.05" fill="#c8102e"/>
<circle cx="138" cy="249" r="2.05" fill="#c8102e"/>
<circle cx="138" cy="256.3" r="2.05" fill="#c8102e"/>
<circle cx="132.7" cy="257.8" r="2.05" fill="#c8102e"/>
<circle cx="152.7" cy="194.3" r="2.05" fill="#124a8a"/>
<circle cx="155.2" cy="216.6" r="2.05" fill="#124a8a"/>
<circle cx="150.3" cy="221.6" r="2.05" fill="#124a8a"/>
<circle cx="152.5" cy="246.8" r="2.05" fill="#124a8a"/>
<circle cx="149.7" cy="258.5" r="2.05" fill="#124a8a"/>
<circle cx="155.2" cy="257" r="2.05" fill="#124a8a"/>
<circle cx="92.8" cy="227.5" r="1.0" fill="#d42a55"/>
<circle cx="231.1" cy="232.7" r="2.05" fill="#2eaf4a"/>
<circle cx="228.8" cy="258.7" r="2.05" fill="#2eaf4a"/>
<circle cx="231.1" cy="258.7" r="2.05" fill="#2eaf4a"/>
<circle cx="233.7" cy="258.7" r="2.05" fill="#2eaf4a"/>
<circle cx="249" cy="232.7" r="2.05" fill="#c8102e"/>
<circle cx="251.8" cy="255.5" r="2.05" fill="#c8102e"/>
<circle cx="246.4" cy="258.7" r="2.05" fill="#c8102e"/>
<circle cx="249.2" cy="258.7" r="2.05" fill="#c8102e"/>
<circle cx="263" cy="258.7" r="2.05" fill="#124a8a"/>
<circle cx="265.4" cy="258.7" r="2.05" fill="#124a8a"/>
<circle cx="267.8" cy="258.7" r="2.05" fill="#124a8a"/>
<circle cx="270.2" cy="258.7" r="2.05" fill="#124a8a"/>
<circle cx="272.6" cy="258.7" r="2.05" fill="#124a8a"/>
<circle cx="289.2" cy="258.9" r="2.05" fill="#2eaf4a"/>
<circle cx="291.1" cy="258.9" r="2.05" fill="#2eaf4a"/>
<circle cx="293" cy="258.9" r="2.05" fill="#2eaf4a"/>
<circle cx="294.9" cy="258.9" r="2.05" fill="#2eaf4a"/>
<circle cx="309" cy="178" r="2.05" fill="#c8102e"/>
<circle cx="309" cy="186.7" r="2.05" fill="#c8102e"/>
<circle cx="306.4" cy="213.7" r="2.05" fill="#c8102e"/>
<circle cx="312.2" cy="213.7" r="2.05" fill="#c8102e"/>
<circle cx="306.4" cy="259" r="2.05" fill="#c8102e"/>
<circle cx="312.2" cy="259" r="2.05" fill="#c8102e"/>
<circle cx="326.5" cy="213.3" r="2.05" fill="#124a8a"/>
<circle cx="323.7" cy="232.7" r="2.05" fill="#124a8a"/>
<circle cx="329.6" cy="232.7" r="2.05" fill="#124a8a"/>
<circle cx="322.6" cy="254.9" r="2.05" fill="#124a8a"/>
<circle cx="326.3" cy="259" r="2.05" fill="#124a8a"/>
<circle cx="330.3" cy="259" r="2.05" fill="#124a8a"/>
<circle cx="309" cy="169.4" r="1.0" fill="#d42a55"/>
<circle cx="326.4" cy="203.8" r="1.0" fill="#d42a55"/>
<circle cx="400" cy="231.6" r="2.05" fill="#2eaf4a"/>
<circle cx="404.4" cy="231.6" r="2.05" fill="#2eaf4a"/>
<circle cx="408.8" cy="227.7" r="2.05" fill="#2eaf4a"/>
<circle cx="401.5" cy="258.6" r="2.05" fill="#2eaf4a"/>
<circle cx="407.3" cy="258.6" r="2.05" fill="#2eaf4a"/>
<circle cx="422.1" cy="231.6" r="2.05" fill="#c8102e"/>
<circle cx="418.8" cy="247.1" r="2.05" fill="#c8102e"/>
<circle cx="425.4" cy="247.1" r="2.05" fill="#c8102e"/>
<circle cx="418.8" cy="258.6" r="2.05" fill="#c8102e"/>
<circle cx="425.4" cy="258.6" r="2.05" fill="#c8102e"/>
<circle cx="422" cy="258.6" r="2.05" fill="#c8102e"/>
<circle cx="439.8" cy="203.3" r="2.05" fill="#124a8a"/>
<circle cx="439.8" cy="217" r="2.05" fill="#124a8a"/>
<circle cx="439.8" cy="232.1" r="2.05" fill="#124a8a"/>
<circle cx="442.4" cy="255.8" r="2.05" fill="#124a8a"/>
<circle cx="436.5" cy="258.6" r="2.05" fill="#124a8a"/>
<circle cx="462.2" cy="232" r="2.05" fill="#2eaf4a"/>
<circle cx="467.5" cy="232" r="2.05" fill="#2eaf4a"/>
<circle cx="464.9" cy="239.3" r="2.05" fill="#2eaf4a"/>
<circle cx="464.9" cy="246.8" r="2.05" fill="#2eaf4a"/>
<circle cx="467.5" cy="255.2" r="2.05" fill="#2eaf4a"/>
<circle cx="462.2" cy="258.5" r="2.05" fill="#2eaf4a"/>
<circle cx="482.5" cy="209.7" r="2.05" fill="#c8102e"/>
<circle cx="482.1" cy="217" r="2.05" fill="#c8102e"/>
<circle cx="480.3" cy="222" r="2.05" fill="#c8102e"/>
<circle cx="483.6" cy="231.3" r="2.05" fill="#c8102e"/>
<circle cx="484.7" cy="235.3" r="2.05" fill="#c8102e"/>
<circle cx="479.2" cy="239.3" r="2.05" fill="#c8102e"/>
<circle cx="499.8" cy="175.9" r="2.05" fill="#124a8a"/>
<circle cx="499.8" cy="182.5" r="2.05" fill="#124a8a"/>
<circle cx="499.8" cy="192" r="2.05" fill="#124a8a"/>
<circle cx="499.7" cy="217.2" r="2.05" fill="#124a8a"/>
<circle cx="499.7" cy="223.8" r="2.05" fill="#124a8a"/>
<circle cx="499.8" cy="207" r="2.05" fill="#124a8a"/>
<circle cx="499.8" cy="165.9" r="1.0" fill="#d42a55"/>
<circle cx="482.5" cy="197.6" r="1.0" fill="#d42a55"/>
</svg></body></html>
